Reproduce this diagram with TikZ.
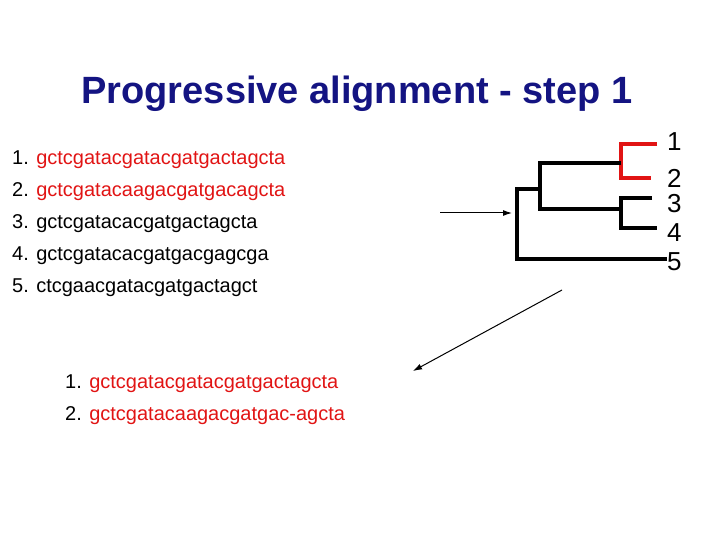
\documentclass[tikz,border=0pt]{standalone}
\usepackage{fontspec}
\setmainfont{Liberation Sans}
\usetikzlibrary{arrows.meta}
\begin{document}
\begin{tikzpicture}[x=1pt,y=-1pt,
  seq/.style={anchor=west,inner sep=0pt,font=\fontsize{20}{22}\selectfont},
  lab/.style={anchor=west,inner sep=0pt,font=\fontsize{26}{28}\selectfont},
  br/.style={line width=4pt},
  arr/.style={-{Latex[length=9pt,width=6pt]},line width=1pt}]
\definecolor{myred}{RGB}{225,20,20}
\definecolor{navy}{RGB}{20,20,130}
\useasboundingbox (0,0) rectangle (720,540);
\node[inner sep=0pt,text=navy,font=\bfseries\fontsize{38}{40}\selectfont] (title) at (357,94) {Progressive alignment - step 1};
\node[seq] (s1) at (12,160) {1. \textcolor{myred}{gctcgatacgatacgatgactagcta}};
\node[seq] (s2) at (12,192) {2. \textcolor{myred}{gctcgatacaagacgatgacagcta}};
\node[seq] (s3) at (12,224) {3. gctcgatacacgatgactagcta};
\node[seq] (s4) at (12,256) {4. gctcgatacacgatgacgagcga};
\node[seq] (s5) at (12,288) {5. ctcgaacgatacgatgactagct};
\node[seq] (a1) at (65,384) {1. \textcolor{myred}{gctcgatacgatacgatgactagcta}};
\node[seq] (a2) at (65,416) {2. \textcolor{myred}{gctcgatacaagacgatgac-agcta}};
% tree
\coordinate (l1) at (657,144); \coordinate (l2) at (651,178);
\coordinate (l3) at (652,198); \coordinate (l4) at (657,228);
\coordinate (l5) at (667,259);
\draw[br,myred] (l1) -| (621,178) -- (l2);
\draw[br] (l3) -| (621,228) -- (l4);
\draw[br] (621,163) -| (540,209) -- (621,209);
\draw[br] (540,189) -| (517,259) -- (l5);
\node[lab] (n1) at (667,142) {1};
\node[lab] (n2) at (667,178) {2};
\node[lab] (n3) at (667,204) {3};
\node[lab] (n4) at (667,233) {4};
\node[lab] (n5) at (667,262) {5};
\coordinate (ar1a) at (440,213); \coordinate (ar1b) at (512,213);
\draw[arr] (ar1a) -- (ar1b);
\coordinate (ar2a) at (562,290); \coordinate (ar2b) at (413,371);
\draw[arr] (ar2a) -- (ar2b);
\end{tikzpicture}
\end{document}
